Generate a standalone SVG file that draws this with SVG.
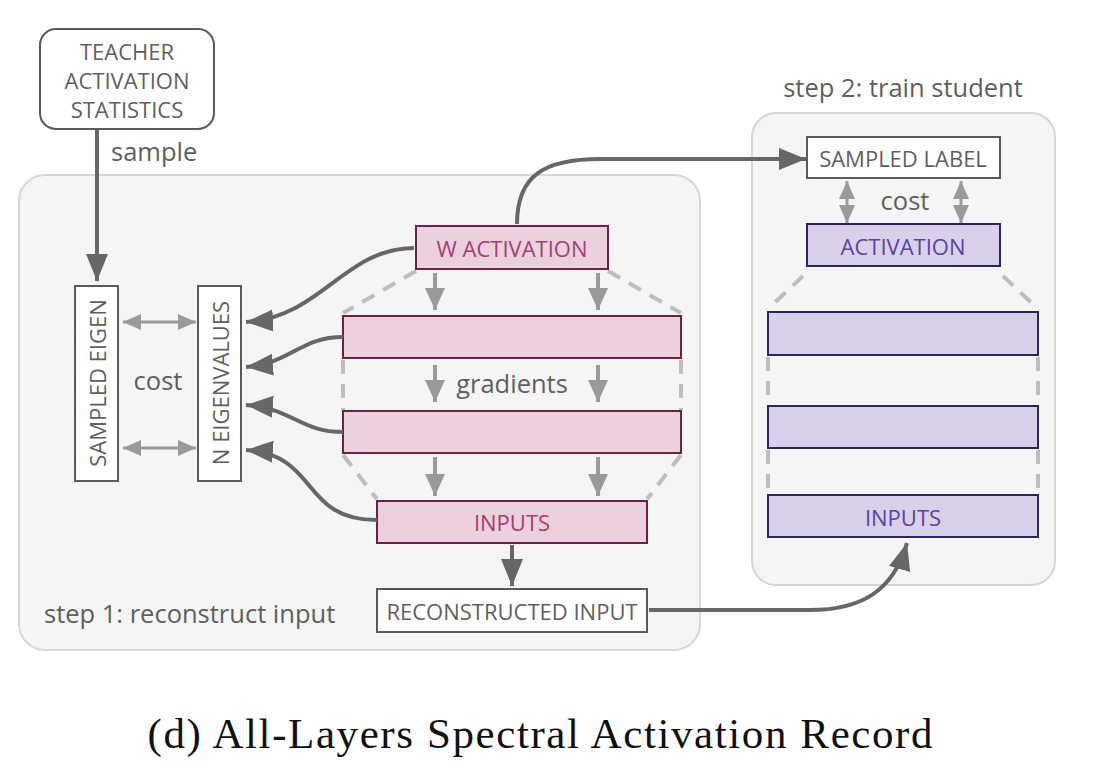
<svg xmlns="http://www.w3.org/2000/svg" width="1098" height="762" viewBox="0 0 1098 762">
<defs>
<style>
.lbl{font-family:"Open Sans","Noto Sans",sans-serif;fill:#5f5f5f}
.box{font-family:"Open Sans","Noto Sans",sans-serif;font-size:22px;text-anchor:middle;dominant-baseline:central}
.big{font-size:25.5px}
.panel{fill:#f5f5f5;stroke:#d6d6d6;stroke-width:2}
.wbox{fill:#ffffff;stroke:#5a5a5a;stroke-width:2}
.pink{fill:#ebd1dd;stroke:#6e1f4a;stroke-width:2}
.purp{fill:#dad1e9;stroke:#2f2260;stroke-width:2}
.dash{fill:none;stroke:#bdbdbd;stroke-width:4;stroke-dasharray:14 10}
.dk{fill:none;stroke:#676767;stroke-width:4}
.lt{fill:none;stroke:#9a9a9a;stroke-width:4}
.lt3{fill:none;stroke:#9a9a9a;stroke-width:3}
</style>
<marker id="ad" markerUnits="userSpaceOnUse" markerWidth="30" markerHeight="24" refX="27" refY="11" orient="auto">
<path d="M0,0 L27,11 L0,22 z" fill="#676767"/>
</marker>
<marker id="al" markerUnits="userSpaceOnUse" markerWidth="26" markerHeight="22" refX="22" refY="10" orient="auto">
<path d="M0,0 L22,10 L0,20 z" fill="#9a9a9a"/>
</marker>
<marker id="as" markerUnits="userSpaceOnUse" markerWidth="22" markerHeight="20" refX="18" refY="8" orient="auto-start-reverse">
<path d="M0,0 L18,8 L0,16 z" fill="#9a9a9a"/>
</marker>
</defs>
<rect width="1098" height="762" fill="#ffffff"/>

<g id="panel-step1">
<rect class="panel" x="19" y="175" width="681" height="475" rx="26"/>
<text class="lbl big" x="44" y="623">step 1: reconstruct input</text>
</g>
<g id="panel-step2">
<rect class="panel" x="752" y="113" width="303" height="472" rx="24"/>
<text class="lbl big" x="903" y="97" text-anchor="middle">step 2: train student</text>
</g>

<g id="dashes">
<path class="dash" d="M416,271 L343,313 M608,271 L681,313 M343,360 L343,410 M681,360 L681,410 M343,455 L377,499 M681,455 L647,499"/>
<path class="dash" d="M803,276 L768,309 M1003,276 L1038,309 M768,357 L768,405 M1038,357 L1038,405 M768,450 L768,494 M1038,450 L1038,494"/>
</g>

<g id="teacher">
<rect class="wbox" x="40" y="29" width="174" height="100" rx="16"/>
<text class="box lbl" x="127" y="51">TEACHER</text>
<text class="box lbl" x="127" y="80">ACTIVATION</text>
<text class="box lbl" x="127" y="109">STATISTICS</text>
</g>
<text class="lbl big" x="111" y="161">sample</text>

<g id="sampled-eigen">
<rect class="wbox" x="75" y="286" width="43" height="195"/>
<text class="box lbl" transform="translate(97,383) rotate(-90)">SAMPLED EIGEN</text>
</g>
<g id="n-eigenvalues">
<rect class="wbox" x="198" y="286" width="43" height="195"/>
<text class="box lbl" transform="translate(220,383) rotate(-90)">N EIGENVALUES</text>
</g>
<text class="lbl big" x="158" y="390" text-anchor="middle">cost</text>

<g id="w-activation">
<rect class="pink" x="416" y="226" width="192" height="43"/>
<text class="box" x="512" y="248" fill="#a83c72">W ACTIVATION</text>
</g>
<g id="layer1-teacher"><rect class="pink" x="343" y="316" width="338" height="42"/></g>
<g id="layer2-teacher"><rect class="pink" x="343" y="411" width="338" height="42"/></g>
<g id="inputs-teacher">
<rect class="pink" x="377" y="501" width="270" height="42"/>
<text class="box" x="512" y="522" fill="#a83c72">INPUTS</text>
</g>
<text class="lbl big" x="512" y="393" text-anchor="middle">gradients</text>
<g id="reconstructed-input">
<rect class="wbox" x="377" y="589" width="270" height="43"/>
<text class="box lbl" x="512" y="611">RECONSTRUCTED INPUT</text>
</g>

<g id="sampled-label">
<rect class="wbox" x="807" y="137" width="193" height="41"/>
<text class="box lbl" x="903" y="158">SAMPLED LABEL</text>
</g>
<text class="lbl big" x="905" y="210" text-anchor="middle">cost</text>
<g id="activation-student">
<rect class="purp" x="807" y="224" width="193" height="42"/>
<text class="box" x="903" y="246" fill="#5a42a6">ACTIVATION</text>
</g>
<g id="layer1-student"><rect class="purp" x="768" y="312" width="270" height="43"/></g>
<g id="layer2-student"><rect class="purp" x="768" y="406" width="270" height="42"/></g>
<g id="inputs-student">
<rect class="purp" x="768" y="495" width="270" height="42"/>
<text class="box" x="903" y="517" fill="#5a42a6">INPUTS</text>
</g>

<g id="connectors">
<path class="dk" d="M97,130 L97,281" marker-end="url(#ad)"/>
<path class="lt3" d="M123,322 L196,322" marker-start="url(#as)" marker-end="url(#as)"/>
<path class="lt3" d="M123,448 L196,448" marker-start="url(#as)" marker-end="url(#as)"/>
<path class="dk" d="M414,248 C345,248 320,318 246,322" marker-end="url(#ad)"/>
<path class="dk" d="M343,337 C300,337 292,363 246,367" marker-end="url(#ad)"/>
<path class="dk" d="M343,432 C300,432 292,408 246,405" marker-end="url(#ad)"/>
<path class="dk" d="M377,520 C300,520 320,455 246,450" marker-end="url(#ad)"/>
<path class="lt" d="M435,273 L435,310" marker-end="url(#al)"/>
<path class="lt" d="M598,273 L598,310" marker-end="url(#al)"/>
<path class="lt" d="M435,365 L435,402" marker-end="url(#al)"/>
<path class="lt" d="M598,365 L598,402" marker-end="url(#al)"/>
<path class="lt" d="M435,457 L435,496" marker-end="url(#al)"/>
<path class="lt" d="M598,457 L598,496" marker-end="url(#al)"/>
<path class="dk" d="M512,545 L512,586" marker-end="url(#ad)"/>
<path class="dk" d="M517,224 C517,175 545,159 600,159 L806,159" marker-end="url(#ad)"/>
<path class="dk" d="M649,610 L810,610 C860,610 893,592 907,543" marker-end="url(#ad)"/>
<path class="lt3" d="M847,181 L847,223" marker-start="url(#as)" marker-end="url(#as)"/>
<path class="lt3" d="M961,181 L961,223" marker-start="url(#as)" marker-end="url(#as)"/>
</g>

<text x="540" y="748" font-family="'Liberation Serif',serif" font-size="43" fill="#111" text-anchor="middle" textLength="785" lengthAdjust="spacing">(d) All-Layers Spectral Activation Record</text>
</svg>
